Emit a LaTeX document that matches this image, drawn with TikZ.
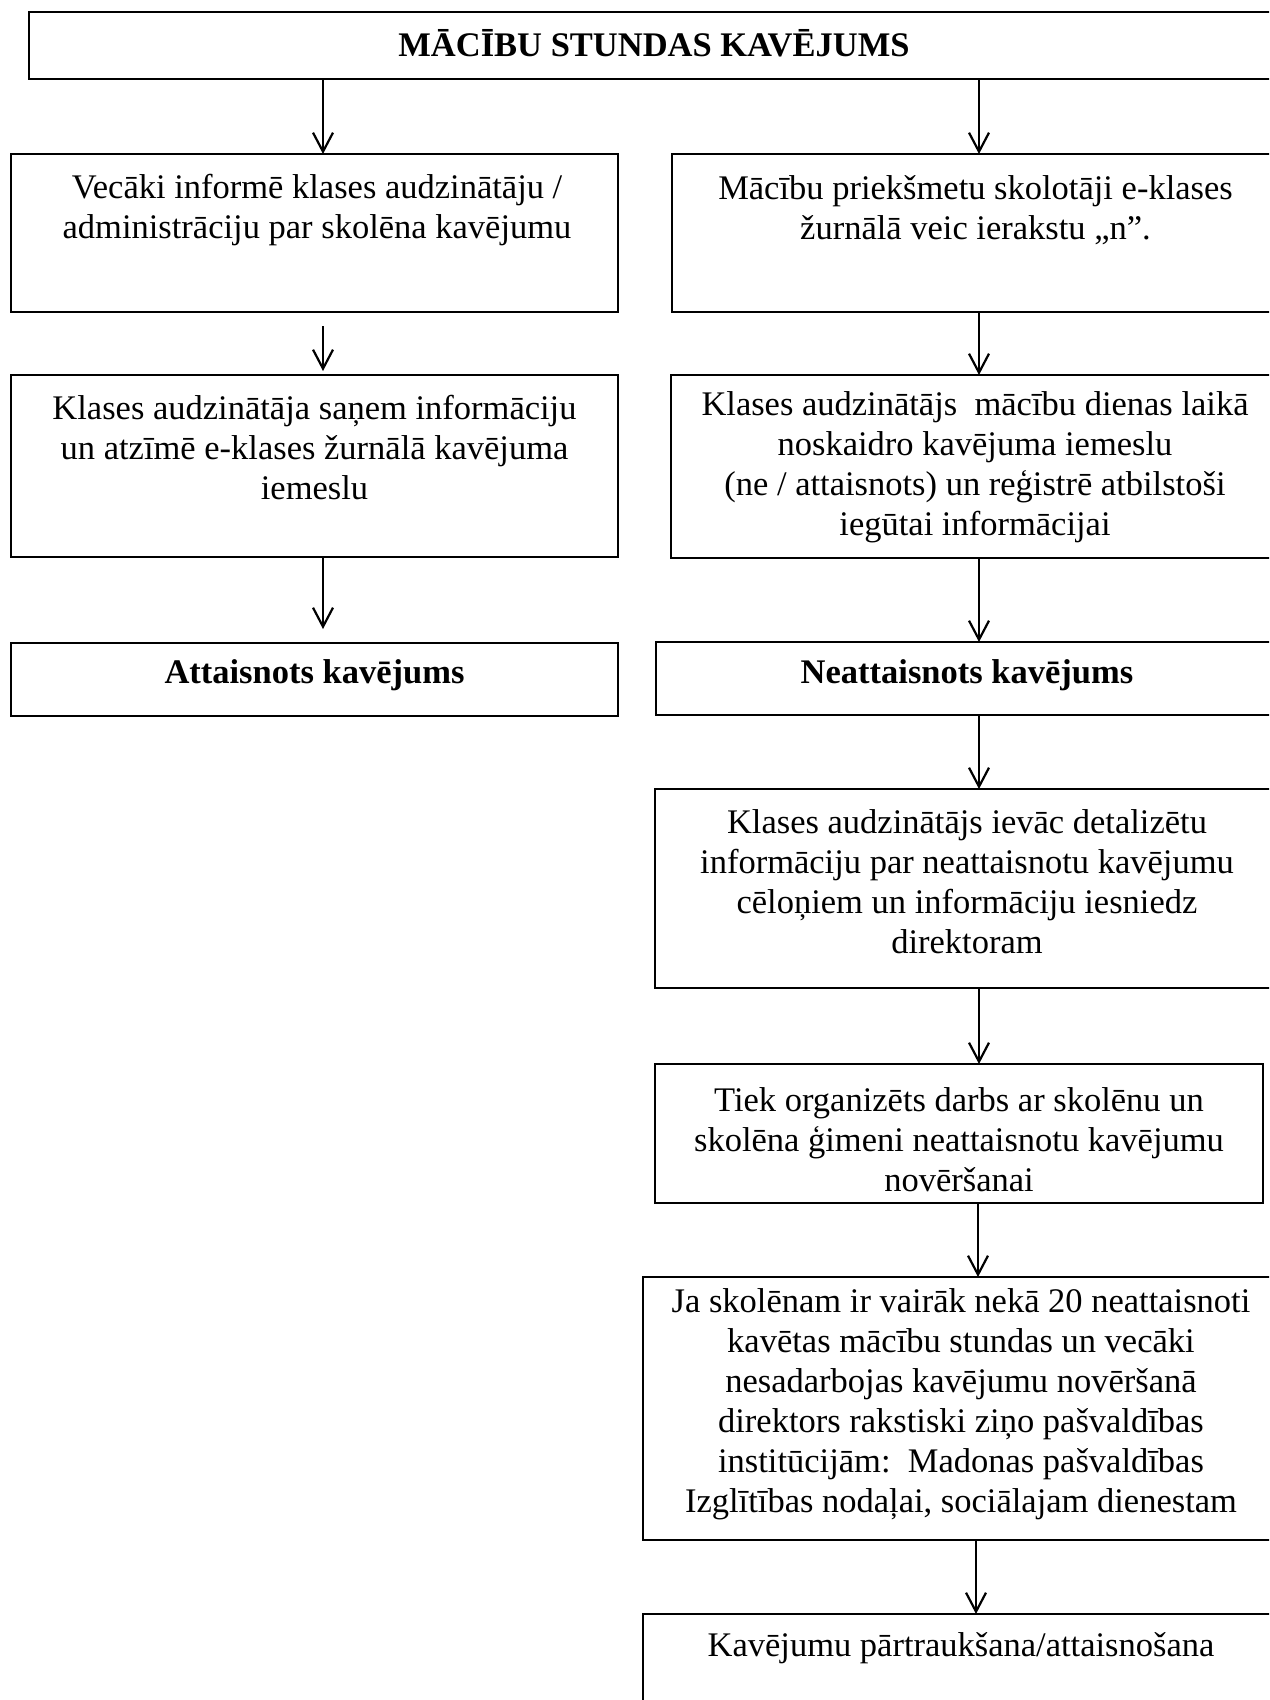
\documentclass[tikz,border=0pt]{standalone}
\usepackage{fontspec}
\setmainfont{Liberation Serif}
\usetikzlibrary{arrows.meta}
\begin{document}
\begin{tikzpicture}[x=1pt,y=-1pt,
  box/.style={draw, line width=2.2pt, rectangle, inner sep=0pt, outer sep=0pt},
  txt/.style={align=center, font=\fontsize{34.5}{40}\selectfont, inner sep=0pt},
  btxt/.style={align=center, font=\fontsize{34.5}{40}\selectfont\bfseries, inner sep=0pt},
  arr/.style={line width=2.2pt, -{Straight Barb[length=19pt,width=20pt,line width=2.2pt]}}]
\useasboundingbox (0,0) rectangle (1269,1700);
\clip (0,0) rectangle (1269,1700);
\fill[white] (0,0) rectangle (1269,1700);

% boxes
\node[box, minimum width=1250pt, minimum height=67pt] (top) at (654,45.5) {};
\node[box, minimum width=607pt, minimum height=158pt] (l2) at (314.5,233) {};
\node[box, minimum width=607pt, minimum height=158pt] (r2) at (975.5,233) {};
\node[box, minimum width=607pt, minimum height=182pt] (l3) at (314.5,466) {};
\node[box, minimum width=608pt, minimum height=183pt] (r3) at (975,466.5) {};
\node[box, minimum width=607pt, minimum height=73pt] (l4) at (314.5,679.5) {};
\node[box, minimum width=623pt, minimum height=73pt] (r4) at (967.5,678.5) {};
\node[box, minimum width=624pt, minimum height=199pt] (r5) at (967,888.5) {};
\node[box, minimum width=608pt, minimum height=139pt] (r6) at (959,1133.5) {};
\node[box, minimum width=636pt, minimum height=263pt] (r7) at (961,1408.5) {};
\node[box, minimum width=636pt, minimum height=146pt] (r8) at (961,1687) {};

% texts
\node[btxt] (ttop) at (654,43) {MĀCĪBU STUNDAS KAVĒJUMS};
\node[txt] (tl2) at (317,210.5) {Vecāki informē klases audzinātāju /\\administrāciju par skolēna kavējumu};
\node[txt] (tr2) at (975.5,210.5) {Mācību priekšmetu skolotāji e-klases\\žurnālā veic ierakstu „n”.};
\node[txt] (tl3) at (314.5,447.5) {Klases audzinātāja saņem informāciju\\un atzīmē e-klases žurnālā kavējuma\\iemeslu};
\node[txt] (tr3) at (975,467.5) {Klases audzinātājs\ \ mācību dienas laikā\\noskaidro kavējuma iemeslu\\(ne / attaisnots) un reģistrē atbilstoši\\iegūtai informācijai};
\node[btxt] (tl4) at (314.5,675) {Attaisnots kavējums};
\node[btxt] (tr4) at (967,675) {Neattaisnots kavējums};
\node[txt] (tr5) at (967,881.5) {Klases audzinātājs ievāc detalizētu\\informāciju par neattaisnotu kavējumu\\cēloņiem un informāciju iesniedz\\direktoram};
\node[txt] (tr6) at (959,1140) {Tiek organizēts darbs ar skolēnu un\\skolēna ģimeni neattaisnotu kavējumu\\novēršanai};
\node[txt] (tr7) at (961,1404) {Ja skolēnam ir vairāk nekā 20 neattaisnoti\\kavētas mācību stundas un vecāki\\nesadarbojas kavējumu novēršanā\\direktors rakstiski ziņo pašvaldības\\institūcijām:\ \ Madonas pašvaldības\\Izglītības nodaļai, sociālajam dienestam};
\node[txt] (tr8) at (961,1648) {Kavējumu pārtraukšana/attaisnošana};

% arrow columns
\coordinate (xl) at (323,0);
\coordinate (xr) at (979,0);
\coordinate (xr2) at (978,0);
\coordinate (xr3) at (976,0);

\draw[arr] (xl |- top.south) -- (xl |- l2.north);
\draw[arr] (xr |- top.south) -- (xr |- r2.north);
\draw[arr, shorten <=14pt, shorten >=4pt] (xl |- l2.south) -- (xl |- l3.north);
\draw[arr] (xr |- r2.south) -- (xr |- r3.north);
\draw[arr, shorten >=14pt] (xl |- l3.south) -- (xl |- l4.north);
\draw[arr] (xr |- r3.south) -- (xr |- r4.north);
\draw[arr] (xr |- r4.south) -- (xr |- r5.north);
\draw[arr] (xr |- r5.south) -- (xr |- r6.north);
\draw[arr] (xr2 |- r6.south) -- (xr2 |- r7.north);
\draw[arr] (xr3 |- r7.south) -- (xr3 |- r8.north);
\end{tikzpicture}
\end{document}
